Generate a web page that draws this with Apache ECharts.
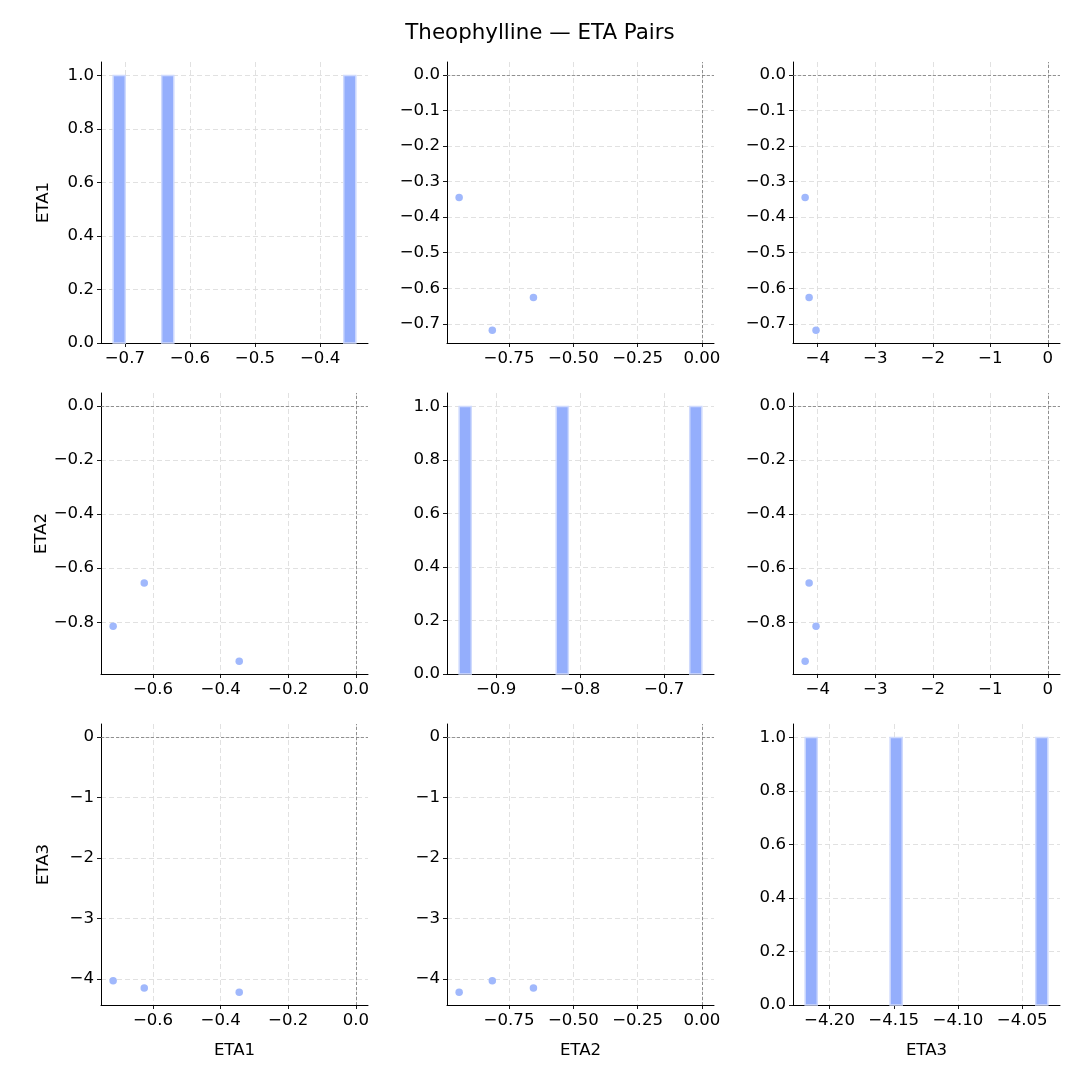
<!DOCTYPE html>
<html>
<head>
<meta charset="utf-8">
<script src="https://cdn.jsdelivr.net/npm/echarts@6/dist/echarts.min.js"></script>
<style>
  html, body { margin: 0; padding: 0; background: #fff; }
  #chart { width: 1080px; height: 1080px; }
</style>
</head>
<body>
<div id="chart"></div>
<script>
// individual ETA estimates (one value per subject)
const eta1 = [-0.345, -0.718, -0.626];
const eta2 = [-0.944, -0.815, -0.655];
const eta3 = [-4.219, -4.030, -4.150];
const varNames = ['ETA1', 'ETA2', 'ETA3'];

// tick labels as shown on the axes
const histTicks = [[-0.7, -0.6, -0.5, -0.4], [-0.9, -0.8, -0.7], [-4.20, -4.15, -4.10, -4.05]];
const histDecimals = [1, 1, 2];
const countTicks = [0, 0.2, 0.4, 0.6, 0.8, 1.0];
const scatterXTicks = [[-0.6, -0.4, -0.2, 0], [-0.75, -0.5, -0.25, 0], [-4, -3, -2, -1, 0]];
const scatterXDecimals = [1, 2, 0];
const scatterYTicks = [[0, -0.1, -0.2, -0.3, -0.4, -0.5, -0.6, -0.7], [0, -0.2, -0.4, -0.6, -0.8], [0, -1, -2, -3, -4]];
const scatterYDecimals = [1, 1, 0];

const etas = [eta1, eta2, eta3];
const nBins = 20;

const FONT = 'DejaVu Sans';
const TICK_FS = 16.6;
const colLeft = [101, 447, 793];
const rowTop = [62, 393, 724];
const cellW = 267;
const cellH = 281;
const barColor = '#94aefc';
const pointColor = '#a0b8fc';

function fmt(dec) {
  return v => {
    const s = Number(v).toFixed(dec);
    return /^-0(\.0+)?$/.test(s) ? s.slice(1) : s.replace('-', '\u2212');
  };
}

// matplotlib style autoscale: 5% margin on each side
function padRange(lo, hi) {
  const s = hi - lo;
  return [lo - 0.05 * s, hi + 0.05 * s];
}

function histBins(vals) {
  const lo = Math.min(...vals), hi = Math.max(...vals);
  const w = (hi - lo) / nBins;
  const counts = new Array(nBins).fill(0);
  vals.forEach(v => {
    let k = Math.floor((v - lo) / w);
    if (k >= nBins) k = nBins - 1;
    counts[k]++;
  });
  const out = [];
  counts.forEach((c, k) => { if (c > 0) out.push([lo + k * w, lo + (k + 1) * w, c]); });
  return out;
}

function makeAxis(gridIndex, range, ticks, dec, name, nameGap) {
  return {
    type: 'value',
    gridIndex: gridIndex,
    min: range[0],
    max: range[1],
    name: name || '',
    nameLocation: 'middle',
    nameGap: nameGap,
    nameTextStyle: { fontFamily: FONT, fontSize: TICK_FS, color: '#000' },
    axisLine: { show: true, onZero: false, lineStyle: { color: '#000', width: 1 } },
    axisTick: { show: true, customValues: ticks, length: 4, lineStyle: { color: '#000', width: 0.9 } },
    axisLabel: {
      customValues: ticks,
      formatter: fmt(dec),
      margin: 7,
      fontFamily: FONT,
      fontSize: TICK_FS,
      color: '#000',
      hideOverlap: false
    },
    splitLine: { show: true, lineStyle: { color: '#dedede', width: 0.9, type: [5, 3] } }
  };
}

const grids = [], xAxes = [], yAxes = [], series = [];

for (let i = 0; i < 3; i++) {
  for (let j = 0; j < 3; j++) {
    const g = i * 3 + j;
    grids.push({ left: colLeft[j], top: rowTop[i], width: cellW, height: cellH });
    const xName = i === 2 ? varNames[j] : '';
    const yName = j === 0 ? varNames[i] : '';
    if (i === j) {
      const v = etas[i];
      const xr = padRange(Math.min(...v), Math.max(...v));
      xAxes.push(makeAxis(g, xr, histTicks[i], histDecimals[i], xName, 37));
      yAxes.push(makeAxis(g, [0, 1.05], countTicks, 1, yName, 49));
      series.push({
        type: 'custom',
        xAxisIndex: g,
        yAxisIndex: g,
        data: histBins(v),
        renderItem: function (params, api) {
          const p0 = api.coord([api.value(0), api.value(2)]);
          const p1 = api.coord([api.value(1), 0]);
          return {
            type: 'rect',
            shape: { x: p0[0], y: p0[1], width: p1[0] - p0[0], height: p1[1] - p0[1] },
            style: { fill: barColor, stroke: '#cfdafd', lineWidth: 1.5 }
          };
        }
      });
    } else {
      const xv = etas[j], yv = etas[i];
      const xr = padRange(Math.min(0, ...xv), Math.max(0, ...xv));
      const yr = padRange(Math.min(0, ...yv), Math.max(0, ...yv));
      xAxes.push(makeAxis(g, xr, scatterXTicks[j], scatterXDecimals[j], xName, 37));
      yAxes.push(makeAxis(g, yr, scatterYTicks[i], scatterYDecimals[i], yName, 49));
      series.push({
        type: 'scatter',
        xAxisIndex: g,
        yAxisIndex: g,
        symbolSize: 7.5,
        itemStyle: { color: pointColor, opacity: 1 },
        data: xv.map((x, k) => [x, yv[k]]),
        markLine: {
          silent: true,
          symbol: 'none',
          label: { show: false },
          lineStyle: { color: '#7a7a7a', width: 0.8, type: [3, 2] },
          data: [{ xAxis: 0 }, { yAxis: 0 }],
          animation: false
        }
      });
    }
  }
}

const chart = echarts.init(document.getElementById('chart'));
chart.setOption({
  backgroundColor: '#fff',
  animation: false,
  title: {
    text: 'Theophylline \u2014 ETA Pairs',
    left: 'center',
    top: 18,
    textStyle: { fontFamily: FONT, fontSize: 21.4, fontWeight: 'normal', color: '#000' }
  },
  grid: grids,
  xAxis: xAxes,
  yAxis: yAxes,
  series: series
});
</script>
</body>
</html>
